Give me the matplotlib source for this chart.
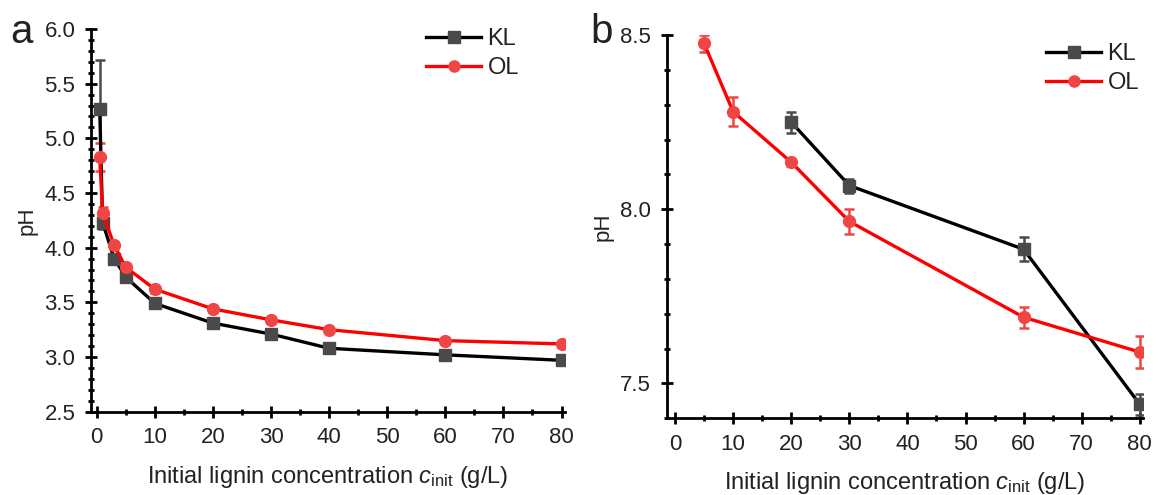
import matplotlib
matplotlib.use("Agg")
import matplotlib.pyplot as plt
from matplotlib.ticker import MultipleLocator
from matplotlib.lines import Line2D

plt.rcParams['font.family'] = ['Liberation Sans', 'DejaVu Sans']
plt.rcParams['mathtext.fontset'] = 'custom'
plt.rcParams['mathtext.it'] = 'Liberation Sans:italic'
plt.rcParams['mathtext.rm'] = 'Liberation Sans'

# Panel a data
a_x = [0.5, 1, 3, 5, 10, 20, 30, 40, 60, 80]
a_kl = [5.27, 4.23, 3.90, 3.73, 3.49, 3.31, 3.21, 3.08, 3.02, 2.97]
a_kl_err = [0.45, 0.06, 0.02, 0.03, 0.02, 0.02, 0.03, 0.02, 0.02, 0.02]
a_ol = [4.83, 4.32, 4.02, 3.82, 3.62, 3.44, 3.34, 3.25, 3.15, 3.12]
a_ol_err = [0.13, 0.05, 0.03, 0.03, 0.03, 0.03, 0.03, 0.02, 0.02, 0.03]

# Panel b data
b_kl_x = [20, 30, 60, 80]
b_kl = [8.25, 8.068, 7.885, 7.44]
b_kl_err = [0.03, 0.02, 0.035, 0.03]
b_ol_x = [5, 10, 20, 30, 60, 80]
b_ol = [8.476, 8.28, 8.135, 7.965, 7.69, 7.59]
b_ol_err = [0.025, 0.042, 0.01, 0.035, 0.03, 0.045]

KL_LINE = 'black'
KL_MARK = '#4a4a4a'
OL_LINE = '#ff0000'
OL_MARK = '#f04545'
TXT = '#222222'

fig = plt.figure(figsize=(11.58, 4.95), dpi=100)
W, H = 1158, 495

def rect(l, r, t, b):
    return [l / W, 1 - b / H, (r - l) / W, (b - t) / H]

ax_a = fig.add_axes(rect(91, 565, 29, 411.7))
ax_b = fig.add_axes(rect(666.7, 1143.3, 35, 418.3))

def style(ax):
    for s in ['top', 'right']:
        ax.spines[s].set_visible(False)
    for s in ['left', 'bottom']:
        ax.spines[s].set_linewidth(2)
    ax.tick_params(which='major', direction='inout', length=8.6, width=2, labelsize=16,
                   labelcolor=TXT, pad=7)
    ax.tick_params(which='minor', direction='inout', length=5, width=2)
    ax.set_xlabel(r'Initial lignin concentration $\it{c}_{\rm init}$ (g/L)', fontsize=17,
                  labelpad=11, color=TXT)
    ax.set_ylabel('pH', fontsize=16, labelpad=5, color=TXT)

def plot_series(ax, x, y, e, line, mark, marker):
    ax.errorbar(x, y, yerr=e, color=line, ecolor=mark, elinewidth=1.8, capsize=3.5, capthick=1.8,
                lw=2.4, marker=marker, ms=8.5, mfc=mark, mec=mark, zorder=3)

def legend(ax, anchor):
    handles = [Line2D([], [], color=KL_LINE, lw=2.4, marker='s', ms=8, mfc=KL_MARK, mec=KL_MARK),
               Line2D([], [], color=OL_LINE, lw=2.4, marker='o', ms=8, mfc=OL_MARK, mec=OL_MARK)]
    leg = ax.legend(handles, ['KL', 'OL'], loc='upper left', bbox_to_anchor=anchor,
                    bbox_transform=fig.transFigure, frameon=False,
                    fontsize=17, handlelength=2.35, handletextpad=0.25, labelspacing=0.3,
                    borderaxespad=0, borderpad=0)
    for t in leg.get_texts():
        t.set_color(TXT)

plot_series(ax_a, a_x, a_kl, a_kl_err, KL_LINE, KL_MARK, 's')
plot_series(ax_a, a_x, a_ol, a_ol_err, OL_LINE, OL_MARK, 'o')
ax_a.set_xlim(-1.0, 80.6)
ax_a.set_ylim(2.5, 6.0)
ax_a.xaxis.set_major_locator(MultipleLocator(10))
ax_a.xaxis.set_minor_locator(MultipleLocator(5))
ax_a.yaxis.set_major_locator(MultipleLocator(0.5))
ax_a.yaxis.set_minor_locator(MultipleLocator(0.1))
style(ax_a)
legend(ax_a, (426 / W, 1 - 28 / H))

plot_series(ax_b, b_kl_x, b_kl, b_kl_err, KL_LINE, KL_MARK, 's')
plot_series(ax_b, b_ol_x, b_ol, b_ol_err, OL_LINE, OL_MARK, 'o')
ax_b.set_xlim(-1.43, 80.6)
ax_b.set_ylim(7.4, 8.5)
ax_b.xaxis.set_major_locator(MultipleLocator(10))
ax_b.xaxis.set_minor_locator(MultipleLocator(5))
ax_b.yaxis.set_major_locator(MultipleLocator(0.5))
ax_b.yaxis.set_minor_locator(MultipleLocator(0.1))
style(ax_b)
legend(ax_b, (1046 / W, 1 - 43 / H))

fig.text(10 / W, 1 - 43 / H, 'a', fontsize=29, color=TXT)
fig.text(590 / W, 1 - 43 / H, 'b', fontsize=29, color=TXT)

fig.savefig('out.png', dpi=100)
